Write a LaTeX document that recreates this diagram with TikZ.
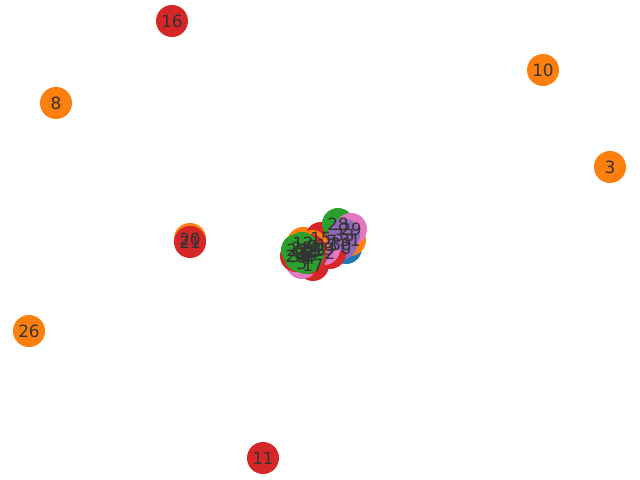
\documentclass[tikz,border=0pt]{standalone}
\usepackage{fontspec}
\setmainfont{DejaVu Sans}
\usetikzlibrary{positioning}

\definecolor{tabblue}{HTML}{1F77B4}
\definecolor{taborange}{HTML}{FF7F0E}
\definecolor{tabgreen}{HTML}{2CA02C}
\definecolor{tabred}{HTML}{D62728}
\definecolor{tabpurple}{HTML}{9467BD}
\definecolor{tabpink}{HTML}{E377C2}

\begin{document}
\begin{tikzpicture}[
x=0.025cm, y=-0.025cm,
    dot/.style={circle, inner sep=0pt, minimum size=0.8cm},
    lbl/.style={inner sep=0pt, text=black!80, font=\fontsize{12}{14}\selectfont}
]
    \useasboundingbox (0,0) rectangle (640,480);

    % Nodes far from the cluster
    \foreach \n/\x/\y/\c in {16/172/21/tabred, 8/56/103/taborange, 10/543/70/taborange,
        3/610/167/taborange, 20/190/239/taborange, 21/190/242/tabred,
        26/29/331/taborange, 11/263/458/tabred}
        \node[dot, fill=\c] (n\n) at (\x,\y) {};

    % Nodes in the cluster
    \foreach \n/\x/\y/\c in {0/346/248/tabblue, 31/350/240/taborange, 30/341/244/tabpurple,
        2/330/253/tabred, 17/313/265/tabred, 5/302/263/tabpink, 24/296/256/tabred,
        12/303/243/taborange, 15/321/238/tabred, 7/332/241/tabred, 13/327/245/tabred,
        19/324/249/tabpink, 1/316/246/tabred, 23/315/250/tabpurple, 9/312/246/taborange,
        18/310/250/tabred, 4/310/258/tabred, 28/338/224/tabgreen, 29/351/229/tabpink,
        33/344/235/tabpurple, 25/302/248/tabgreen, 27/297/250/tabgreen,
        22/305/252/tabgreen, 14/308/254/tabgreen, 6/306/258/tabgreen, 32/300/256/tabgreen}
        \node[dot, fill=\c] (n\n) at (\x,\y) {};

    % Labels
    \foreach \n in {16,8,10,3,20,21,26,11,0,31,30,2,17,5,24,12,15,7,13,19,1,23,9,18,4,28,29,33,25,27,22,14,6,32}
        \node[lbl] at (n\n) {\n};

\end{tikzpicture}
\end{document}
